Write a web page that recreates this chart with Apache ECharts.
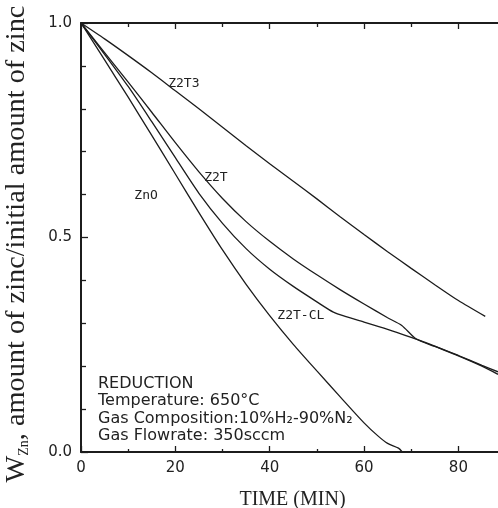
<!DOCTYPE html>
<html>
<head>
<meta charset="utf-8">
<title>Zinc reduction</title>
<script src="https://cdn.jsdelivr.net/npm/echarts@6/dist/echarts.min.js"></script>
<style>
  html, body { margin: 0; padding: 0; background: #ffffff; }
  #chart { width: 498px; height: 508px; }
</style>
</head>
<body>
<div id="chart"></div>
<script>
// Fraction of zinc remaining vs. reduction time (min)
const znoTime   = [0, 5, 10, 15, 20, 25, 30, 35, 40, 45, 50, 55, 60, 63, 65, 67.3, 68.1];
const znoValue  = [1.0, 0.914, 0.827, 0.738, 0.648, 0.558, 0.471, 0.391, 0.318, 0.251, 0.189, 0.128, 0.068, 0.037, 0.02, 0.009, 0.0];

const z2tclTime  = [0, 5, 10, 15, 20, 25, 30, 35, 40, 45, 50, 53.5, 56, 60, 65, 70, 75, 80, 85, 88.4];
const z2tclValue = [1.0, 0.927, 0.852, 0.77, 0.686, 0.603, 0.533, 0.474, 0.426, 0.386, 0.35, 0.326, 0.316, 0.303, 0.286, 0.267, 0.247, 0.225, 0.202, 0.187];

const z2tTime   = [0, 5, 10, 15, 20, 25, 30, 35, 40, 45, 50, 55, 60, 65, 68, 71, 75, 80, 85, 88.4];
const z2tValue  = [1.0, 0.931, 0.862, 0.792, 0.721, 0.653, 0.591, 0.537, 0.491, 0.45, 0.413, 0.378, 0.345, 0.313, 0.295, 0.264, 0.246, 0.224, 0.2, 0.181];

const z2t3Time  = [0, 5, 9.5, 15, 20, 25, 30, 35, 40, 45, 50, 55, 60, 65, 70, 75, 80, 85.7];
const z2t3Value = [1.0, 0.963, 0.928, 0.884, 0.842, 0.8, 0.757, 0.714, 0.672, 0.631, 0.59, 0.548, 0.507, 0.467, 0.428, 0.39, 0.353, 0.316];

const seriesNames = ['ZnO', 'Z2T-CL', 'Z2T', 'Z2T3'];

// Axis ticks
const xMajorTicks = [0, 20, 40, 60, 80];
const xMinorTicks = [10, 30, 50, 70];
const yMajorTicks = [0, 0.5, 1.0];
const yMinorTicks = [0.1, 0.2, 0.3, 0.4, 0.6, 0.7, 0.8, 0.9];

const noteLines = ['REDUCTION', 'Temperature: 650°C', 'Gas Composition:10%H₂-90%N₂', 'Gas Flowrate: 350sccm'];

const INK = '#1c1c1c';
const X_MAX = 88.4;

function pairs(ts, vs) { return ts.map((t, i) => [t, vs[i]]); }

function xAxisDef(position, ticks, len, withLine, withLabels) {
  return {
    type: 'value', position: position, min: 0, max: X_MAX,
    splitLine: { show: false },
    axisLine: { show: withLine, onZero: false, lineStyle: { color: INK, width: 2 } },
    axisTick: { show: true, inside: true, length: len, customValues: ticks, lineStyle: { color: INK, width: 1.3 } },
    axisLabel: withLabels ? {
      show: true, customValues: ticks, margin: 9,
      fontFamily: 'DejaVu Sans', fontSize: 15, color: '#222',
      formatter: v => String(v)
    } : { show: false }
  };
}

function yAxisDef(ticks, len, withLine, withLabels) {
  return {
    type: 'value', position: 'left', min: 0, max: 1,
    splitLine: { show: false },
    axisLine: { show: withLine, onZero: false, lineStyle: { color: INK, width: 2 } },
    axisTick: { show: true, inside: true, length: len, customValues: ticks, lineStyle: { color: INK, width: 1.3 } },
    axisLabel: withLabels ? {
      show: true, customValues: ticks, margin: 9,
      fontFamily: 'DejaVu Sans', fontSize: 15, color: '#222',
      formatter: v => v.toFixed(1)
    } : { show: false }
  };
}

const bottomAxis = xAxisDef('bottom', xMajorTicks, 6, true, true);
bottomAxis.name = 'TIME (MIN)';
bottomAxis.nameLocation = 'middle';
bottomAxis.nameGap = 38;
bottomAxis.nameTextStyle = { fontFamily: 'Liberation Serif', fontSize: 20, color: '#222', padding: [0, 0, 0, 6] };

function curve(name, ts, vs, labelAt) {
  return {
    name: name, type: 'line', xAxisIndex: 0, yAxisIndex: 0,
    data: pairs(ts, vs),
    showSymbol: false, smooth: 0.25,
    lineStyle: { color: INK, width: 1.3 },
    silent: true,
    markPoint: {
      symbol: 'circle', symbolSize: 0, silent: true,
      label: {
        show: true, position: 'inside', formatter: name,
        fontFamily: 'DejaVu Sans Mono', fontSize: 13, color: '#222'
      },
      data: [{ coord: labelAt }]
    }
  };
}

const serif = 'Liberation Serif';

const chart = echarts.init(document.getElementById('chart'), null, { renderer: 'canvas' });
chart.setOption({
  backgroundColor: '#ffffff',
  animation: false,
  grid: { left: 81, right: 0, top: 23, bottom: 56, containLabel: false, outerBoundsMode: 'none' },
  xAxis: [
    bottomAxis,
    xAxisDef('bottom', xMinorTicks, 3, false, false),
    xAxisDef('top', xMajorTicks, 6, true, false),
    xAxisDef('top', xMinorTicks, 4, false, false)
  ],
  yAxis: [
    yAxisDef(yMajorTicks, 7, true, true),
    yAxisDef(yMinorTicks, 5, false, false)
  ],
  graphic: [
    {
      // vertical axis title, reading bottom to top
      type: 'text', x: 17, y: 244, rotation: Math.PI / 2, silent: true,
      style: {
        text: '{w|W}{s|Zn}{t|, amount of zinc/initial amount of zinc}',
        align: 'center', verticalAlign: 'middle',
        rich: {
          w: { fontFamily: serif, fontSize: 28.3, fill: '#222' },
          s: { fontFamily: serif, fontSize: 14, fill: '#222', verticalAlign: 'bottom' },
          t: { fontFamily: serif, fontSize: 28.3, fill: '#222' }
        }
      }
    },
    {
      type: 'text', left: 98, top: 375, silent: true,
      style: {
        text: noteLines.join('\n'),
        fontFamily: 'DejaVu Sans', fontSize: 16, lineHeight: 17.5,
        fill: '#222'
      }
    }
  ],
  series: [
    curve(seriesNames[0], znoTime, znoValue, [13.8, 0.597]),
    curve(seriesNames[1], z2tclTime, z2tclValue, [46.6, 0.317]),
    curve(seriesNames[2], z2tTime, z2tValue, [28.6, 0.639]),
    curve(seriesNames[3], z2t3Time, z2t3Value, [21.8, 0.858])
  ]
});
</script>
</body>
</html>
